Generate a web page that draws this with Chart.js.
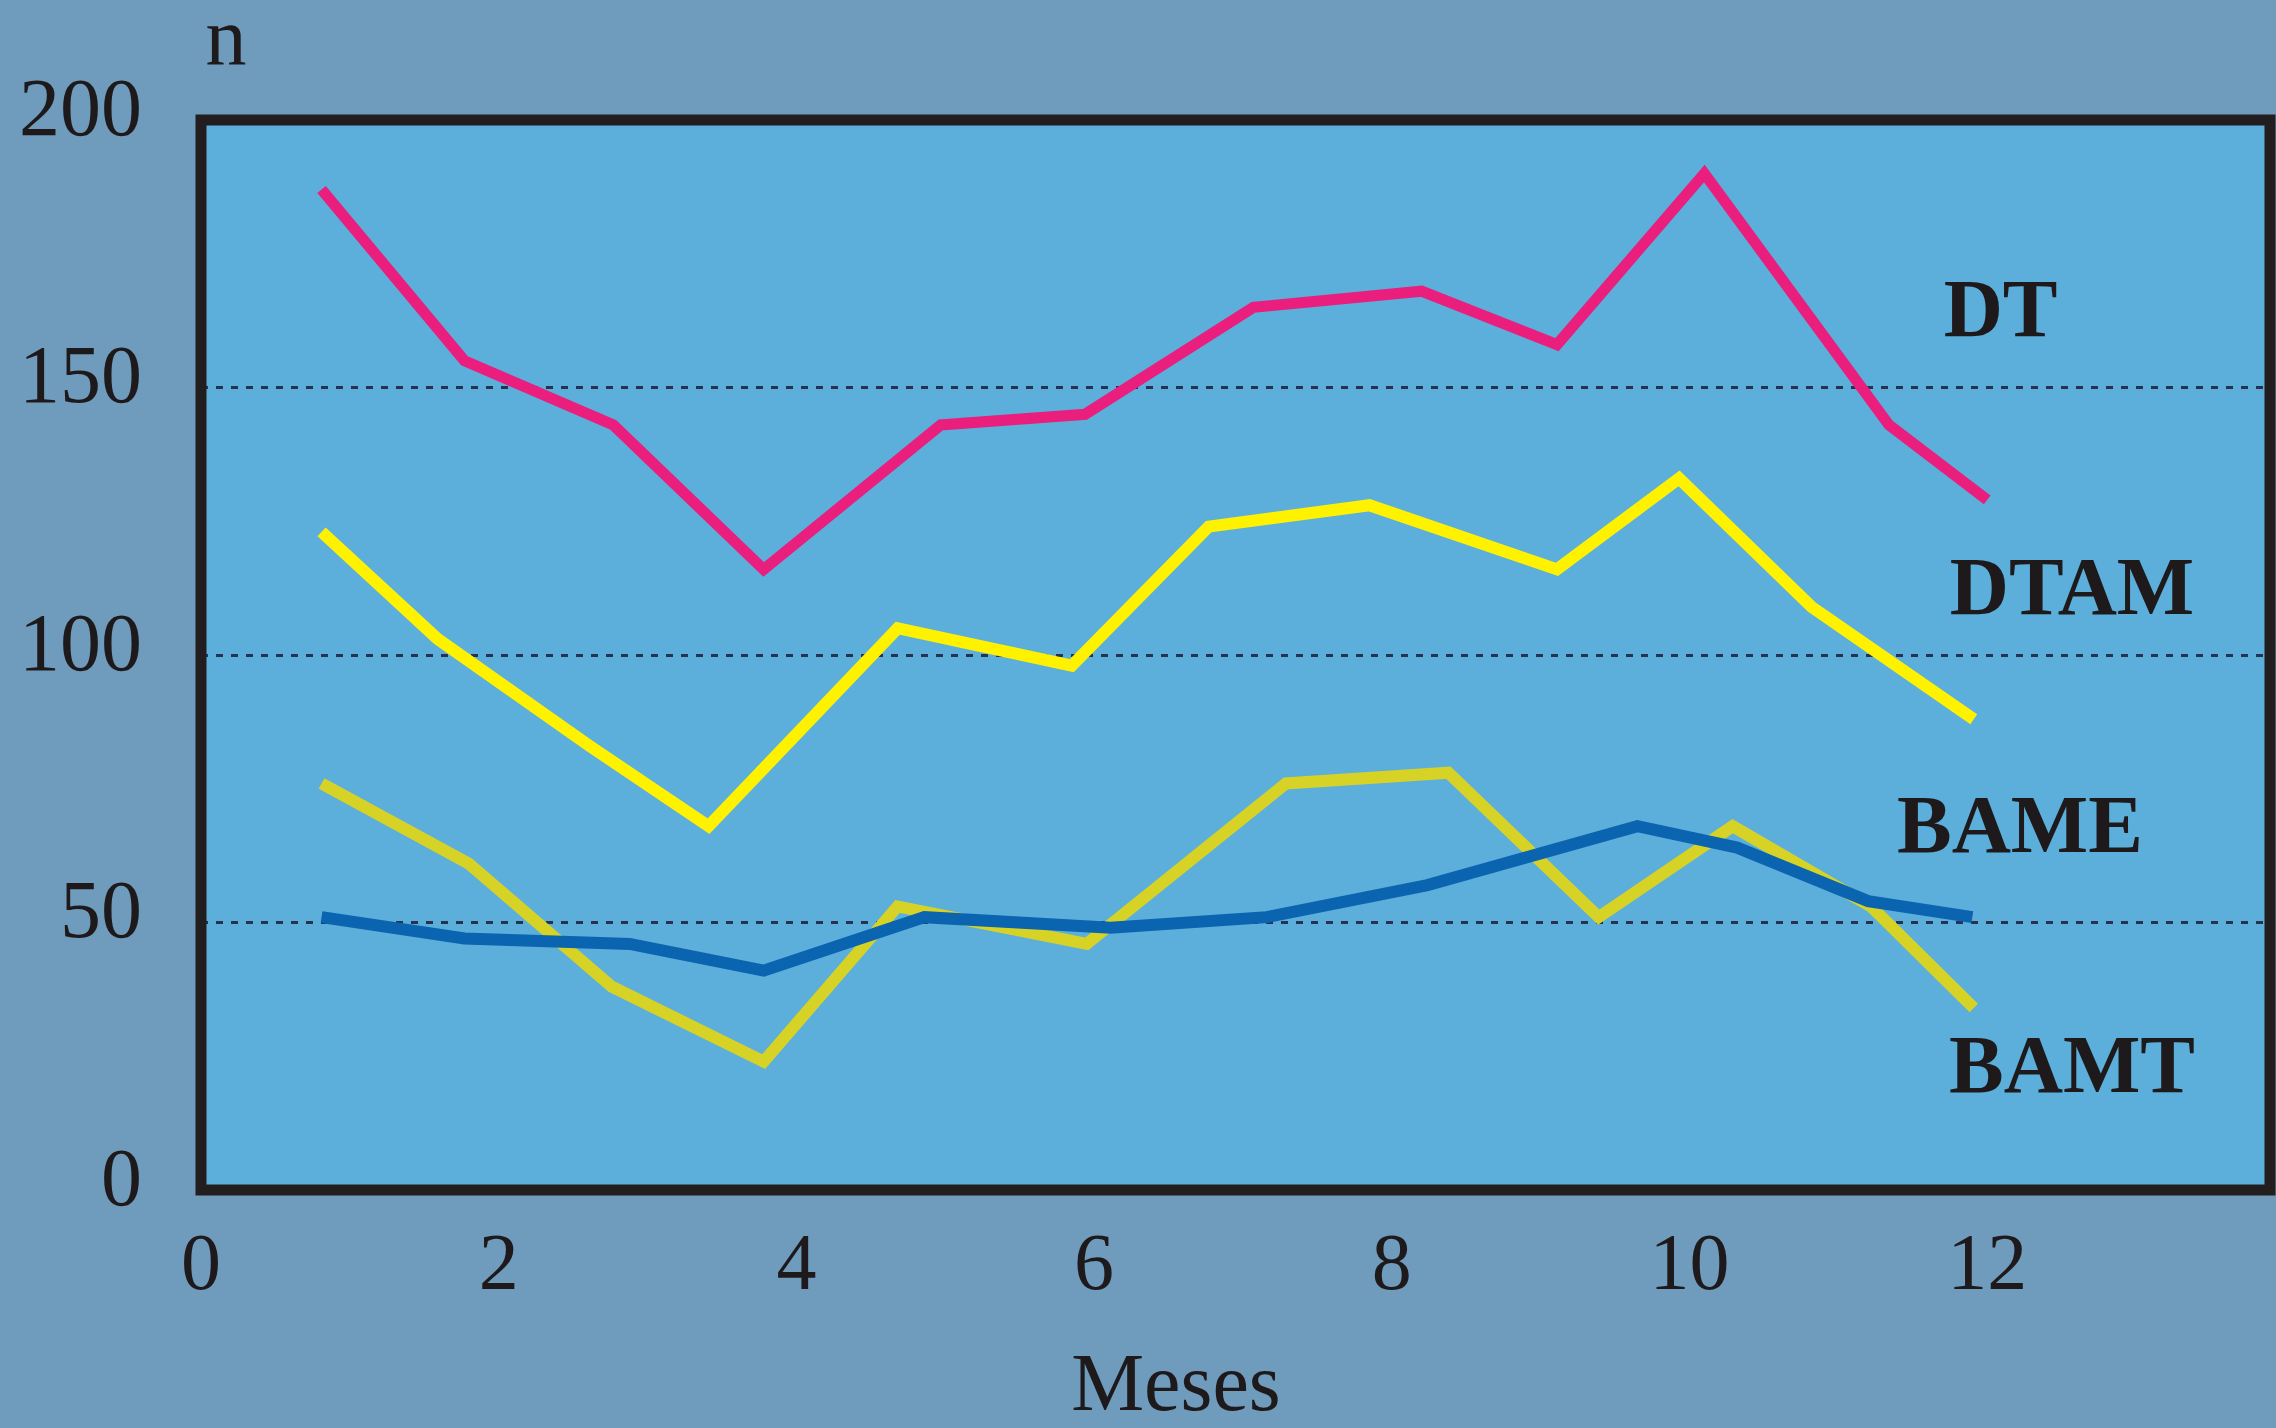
<!DOCTYPE html>
<html>
<head>
<meta charset="utf-8">
<script src="https://cdn.jsdelivr.net/npm/chart.js@4"></script>
<style>
  html, body { margin: 0; padding: 0; background: #6F9BBD; }
  canvas { display: block; }
</style>
</head>
<body>
<canvas id="meses-chart" width="2276" height="1428"></canvas>
<script>
/* Monthly counts (n) per series */
const dtMonths   = [0.81, 1.77, 2.77, 3.78, 4.97, 5.94, 7.07, 8.20, 9.11, 10.10, 11.34, 12.00];
const dtValues   = [187, 155, 143, 116, 143, 145, 165, 168, 158, 190, 143, 129];

const dtamMonths = [0.81, 1.59, 2.61, 3.41, 4.68, 5.85, 6.77, 7.85, 9.11, 9.93, 10.82, 11.91];
const dtamValues = [123, 103, 83, 68, 105, 98, 124, 128, 116, 133, 109, 88];

const bameMonths = [0.81, 1.77, 2.88, 3.78, 4.86, 6.11, 7.16, 8.24, 9.65, 10.32, 11.20, 11.90];
const bameValues = [51, 47, 46, 41, 51, 49, 51, 57, 68, 64, 54, 51];

const bamtMonths = [0.81, 1.80, 2.76, 3.78, 4.68, 5.95, 7.29, 8.38, 9.39, 10.29, 11.22, 11.91];
const bamtValues = [76, 61, 38, 24, 53, 46, 76, 78, 51, 68, 53, 34];

const seriesNames = ['DT', 'DTAM', 'BAME', 'BAMT'];
const xTicks = [0, 2, 4, 6, 8, 10, 12];
const yTicks = [0, 50, 100, 150, 200];

// where the series names sit, in data units
const namePlacement = {
  DT:   { x: 12.09, y: 163.5 },
  DTAM: { x: 12.57, y: 111.6 },
  BAME: { x: 12.22, y: 67.2 },
  BAMT: { x: 12.57, y: 22.3 }
};

const toPoints = (xs, ys) => xs.map((x, i) => ({ x: x, y: ys[i] }));

const serif = "'Liberation Serif', 'Times New Roman', serif";
const inkColor = '#1E1A1B';
const gridColor = '#26324F';

// plot fill, black frame and free text labels
const framePlugin = {
  id: 'frame',
  beforeDraw(chart) {
    const { ctx, chartArea: a } = chart;
    ctx.save();
    ctx.fillStyle = '#5CAEDB';
    ctx.fillRect(a.left, a.top, a.width, a.height);
    ctx.restore();
  },
  afterDraw(chart) {
    const { ctx, chartArea: a, scales } = chart;
    ctx.save();
    ctx.strokeStyle = '#221E1F';
    ctx.lineWidth = 11;
    ctx.strokeRect(a.left, a.top, a.width, a.height);

    ctx.fillStyle = inkColor;
    ctx.textAlign = 'center';
    ctx.textBaseline = 'middle';
    ctx.font = 'bold 82px ' + serif;
    seriesNames.forEach(name => {
      const p = namePlacement[name];
      ctx.fillText(name, scales.x.getPixelForValue(p.x), scales.y.getPixelForValue(p.y));
    });

    ctx.font = '82px ' + serif;
    ctx.fillText('Meses', scales.x.getPixelForValue(6.55), 1388);
    ctx.textBaseline = 'alphabetic';
    ctx.fillText('n', 226, 64);
    ctx.restore();
  }
};

const lineStyle = {
  pointRadius: 0,
  borderWidth: 12,
  tension: 0,
  borderJoinStyle: 'miter',
  borderCapStyle: 'butt',
  fill: false
};

new Chart(document.getElementById('meses-chart'), {
  type: 'line',
  data: {
    datasets: [
      { label: 'DT',   data: toPoints(dtMonths, dtValues),     borderColor: '#E91E7D', ...lineStyle, borderWidth: 11 },
      { label: 'DTAM', data: toPoints(dtamMonths, dtamValues), borderColor: '#FFF200', ...lineStyle },
      { label: 'BAME', data: toPoints(bameMonths, bameValues), borderColor: '#0A64B0', ...lineStyle },
      { label: 'BAMT', data: toPoints(bamtMonths, bamtValues), borderColor: '#D7D326', ...lineStyle }
    ]
  },
  options: {
    responsive: false,
    devicePixelRatio: 1,
    animation: false,
    layout: { padding: { top: 120, right: 6, left: 0, bottom: 0 } },
    plugins: {
      legend: { display: false },
      tooltip: { enabled: false }
    },
    scales: {
      x: {
        type: 'linear',
        min: 0,
        max: 13.9,
        afterBuildTicks: scale => { scale.ticks = xTicks.map(v => ({ value: v })); },
        afterFit: scale => { scale.height = 238; },
        grid: { display: false, drawTicks: false },
        border: { display: false },
        ticks: {
          padding: 30,
          maxRotation: 0,
          autoSkip: false,
          color: inkColor,
          font: { family: serif, size: 80 }
        }
      },
      y: {
        min: 0,
        max: 200,
        afterBuildTicks: scale => { scale.ticks = yTicks.map(v => ({ value: v })); },
        afterFit: scale => { scale.width = 201; },
        grid: {
          drawTicks: false,
          lineWidth: 3,
          color: ctx => (ctx.tick && (ctx.tick.value === 0 || ctx.tick.value === 200)) ? 'rgba(0,0,0,0)' : gridColor
        },
        border: { display: false, dash: [7, 8] },
        ticks: {
          padding: 59,
          labelOffset: -7,
          color: inkColor,
          font: { family: serif, size: 82 }
        }
      }
    }
  },
  plugins: [framePlugin]
});
</script>
</body>
</html>
